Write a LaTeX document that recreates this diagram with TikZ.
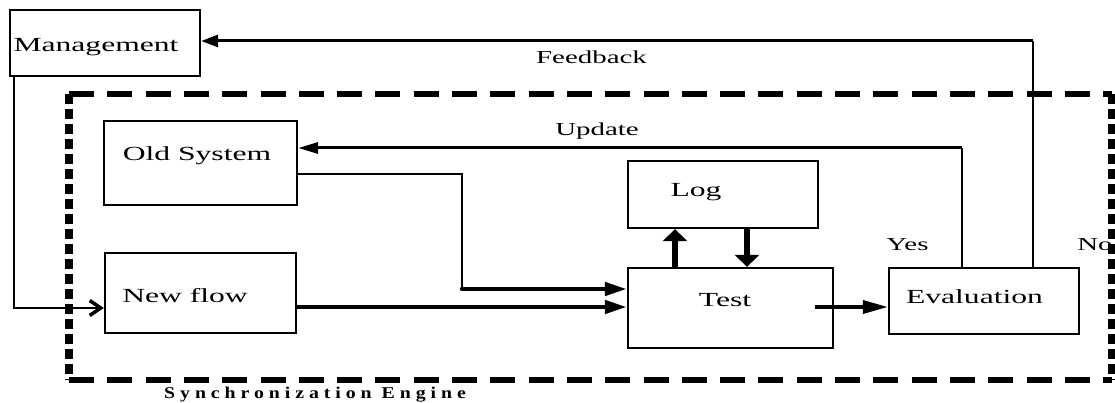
\documentclass[tikz,border=0pt]{standalone}
\usepackage{fontspec}
\setmainfont{Liberation Serif}[FakeStretch=1.58]
\newfontfamily\syncfont{Liberation Serif}[FakeStretch=1.2,LetterSpace=30]
\usetikzlibrary{arrows.meta}
\begin{document}
\begin{tikzpicture}[x=1pt,y=-1pt,
  box/.style={draw,line width=2.3pt,inner sep=0pt},
  txt/.style={anchor=base,inner sep=0pt,font=\fontsize{20}{22}\selectfont},
  lbl/.style={anchor=base,inner sep=0pt,font=\fontsize{18.3}{20}\selectfont},
  thinline/.style={line width=1.3pt},
  vline/.style={line width=2pt},
  hthick/.style={line width=4.5pt,-{Triangle[length=22pt,width=13pt]}},
  vthick/.style={line width=5.5pt,-{Triangle[length=12pt,width=24pt]}},
  fbarrow/.style={line width=3pt,-{Triangle[length=17pt,width=12pt]}},
  uparrow/.style={line width=3pt,-{Triangle[length=20pt,width=11pt]}},
  evarrow/.style={line width=3.7pt,-{Triangle[length=25pt,width=13pt]}},
  mgarrow/.style={thinline,-{Straight Barb[length=11pt,width=15pt,line width=3.5pt]}},
  hdash/.style={line width=5.5pt,dash pattern=on 25pt off 13.3pt},
  vdash/.style={line width=8pt,dash pattern=on 10pt off 5pt}]
\useasboundingbox (0,0) rectangle (1115,403);

% boxes
\node[box,minimum width=190pt,minimum height=66pt] (mgmt) at (105,43) {};
\node[box,minimum width=193pt,minimum height=84pt] (old) at (200.5,163) {};
\node[box,minimum width=191pt,minimum height=80pt] (nf) at (200.5,293) {};
\node[box,minimum width=190pt,minimum height=67pt] (log) at (723,194.5) {};
\node[box,minimum width=205pt,minimum height=80pt] (test) at (730.5,308) {};
\node[box,minimum width=190pt,minimum height=66pt] (eval) at (984,301) {};

% box texts
\node[txt] (mgmtt) at (96,52) {Management};
\node[txt] (oldt) at (197,160.7) {Old System};
\node[txt] (nft) at (185,302.7) {New flow};
\node[txt] (logt) at (696,197) {Log};
\node[txt] (testt) at (725,306.7) {Test};
\node[txt] (evalt) at (974.5,303.3) {Evaluation};

% labels
\node[lbl] (fbl) at (591.5,64) {Feedback};
\node[lbl] (upl) at (597,136) {Update};
\node[lbl] (yes) at (907.5,251) {Yes};
\node[lbl] (no) at (1095,251) {No};
\node[anchor=base west,inner sep=0pt,font=\syncfont\bfseries\fontsize{16.5}{18}\selectfont] (sync) at (164,398.5) {Synchronization Engine};

% coordinates
\coordinate (fbtop) at (1032.5,41);
\coordinate (uptop) at (962,148);
\coordinate (oldout) at (old.east |- 0,174);
\coordinate (oldbend) at (462,174);
\coordinate (oldjoin) at (462,289);
\coordinate (nfout) at (nf.east |- 0,307);
\coordinate (tl) at (675,0);
\coordinate (lt) at (747,0);
\coordinate (testout) at (815,307);
\coordinate (mgout) at (14,0);
\coordinate (mgbend) at (14,308);

% feedback
\draw[vline] (fbtop |- eval.north) -- (fbtop);
\draw[fbarrow] (fbtop) -- (fbtop -| mgmt.east);
% update
\draw[vline] (uptop |- eval.north) -- (uptop);
\draw[uparrow] (uptop) -- (uptop -| old.east);
% old system to test
\draw[thinline] (oldout) -- (oldbend) -- (oldjoin);
\draw[hthick,line cap=round] (oldjoin) -- (oldjoin -| test.west);
% new flow to test
\draw[hthick] (nfout) -- (nfout -| test.west);
% test <-> log
\draw[vthick] (tl |- test.north) -- (tl |- log.south);
\draw[vthick] (lt |- log.south) -- (lt |- test.north);
% test to evaluation
\draw[evarrow] (testout) -- (testout -| eval.west);
% management to new flow
\draw[mgarrow] (mgout |- mgmt.south) -- (mgbend) -- (mgbend -| nf.west);

% dashed frame
\coordinate (dtl) at (69,94);
\coordinate (dtr) at (1112,94);
\coordinate (dbl) at (69,380);
\coordinate (dbr) at (1112,380);
\draw[hdash] (dtl) -- (dtr);
\draw[hdash] (dbl) -- (dbr);
\draw[vdash] (dtl) -- (dbl);
\draw[vdash] (dtr) -- (dbr);
\end{tikzpicture}
\end{document}
